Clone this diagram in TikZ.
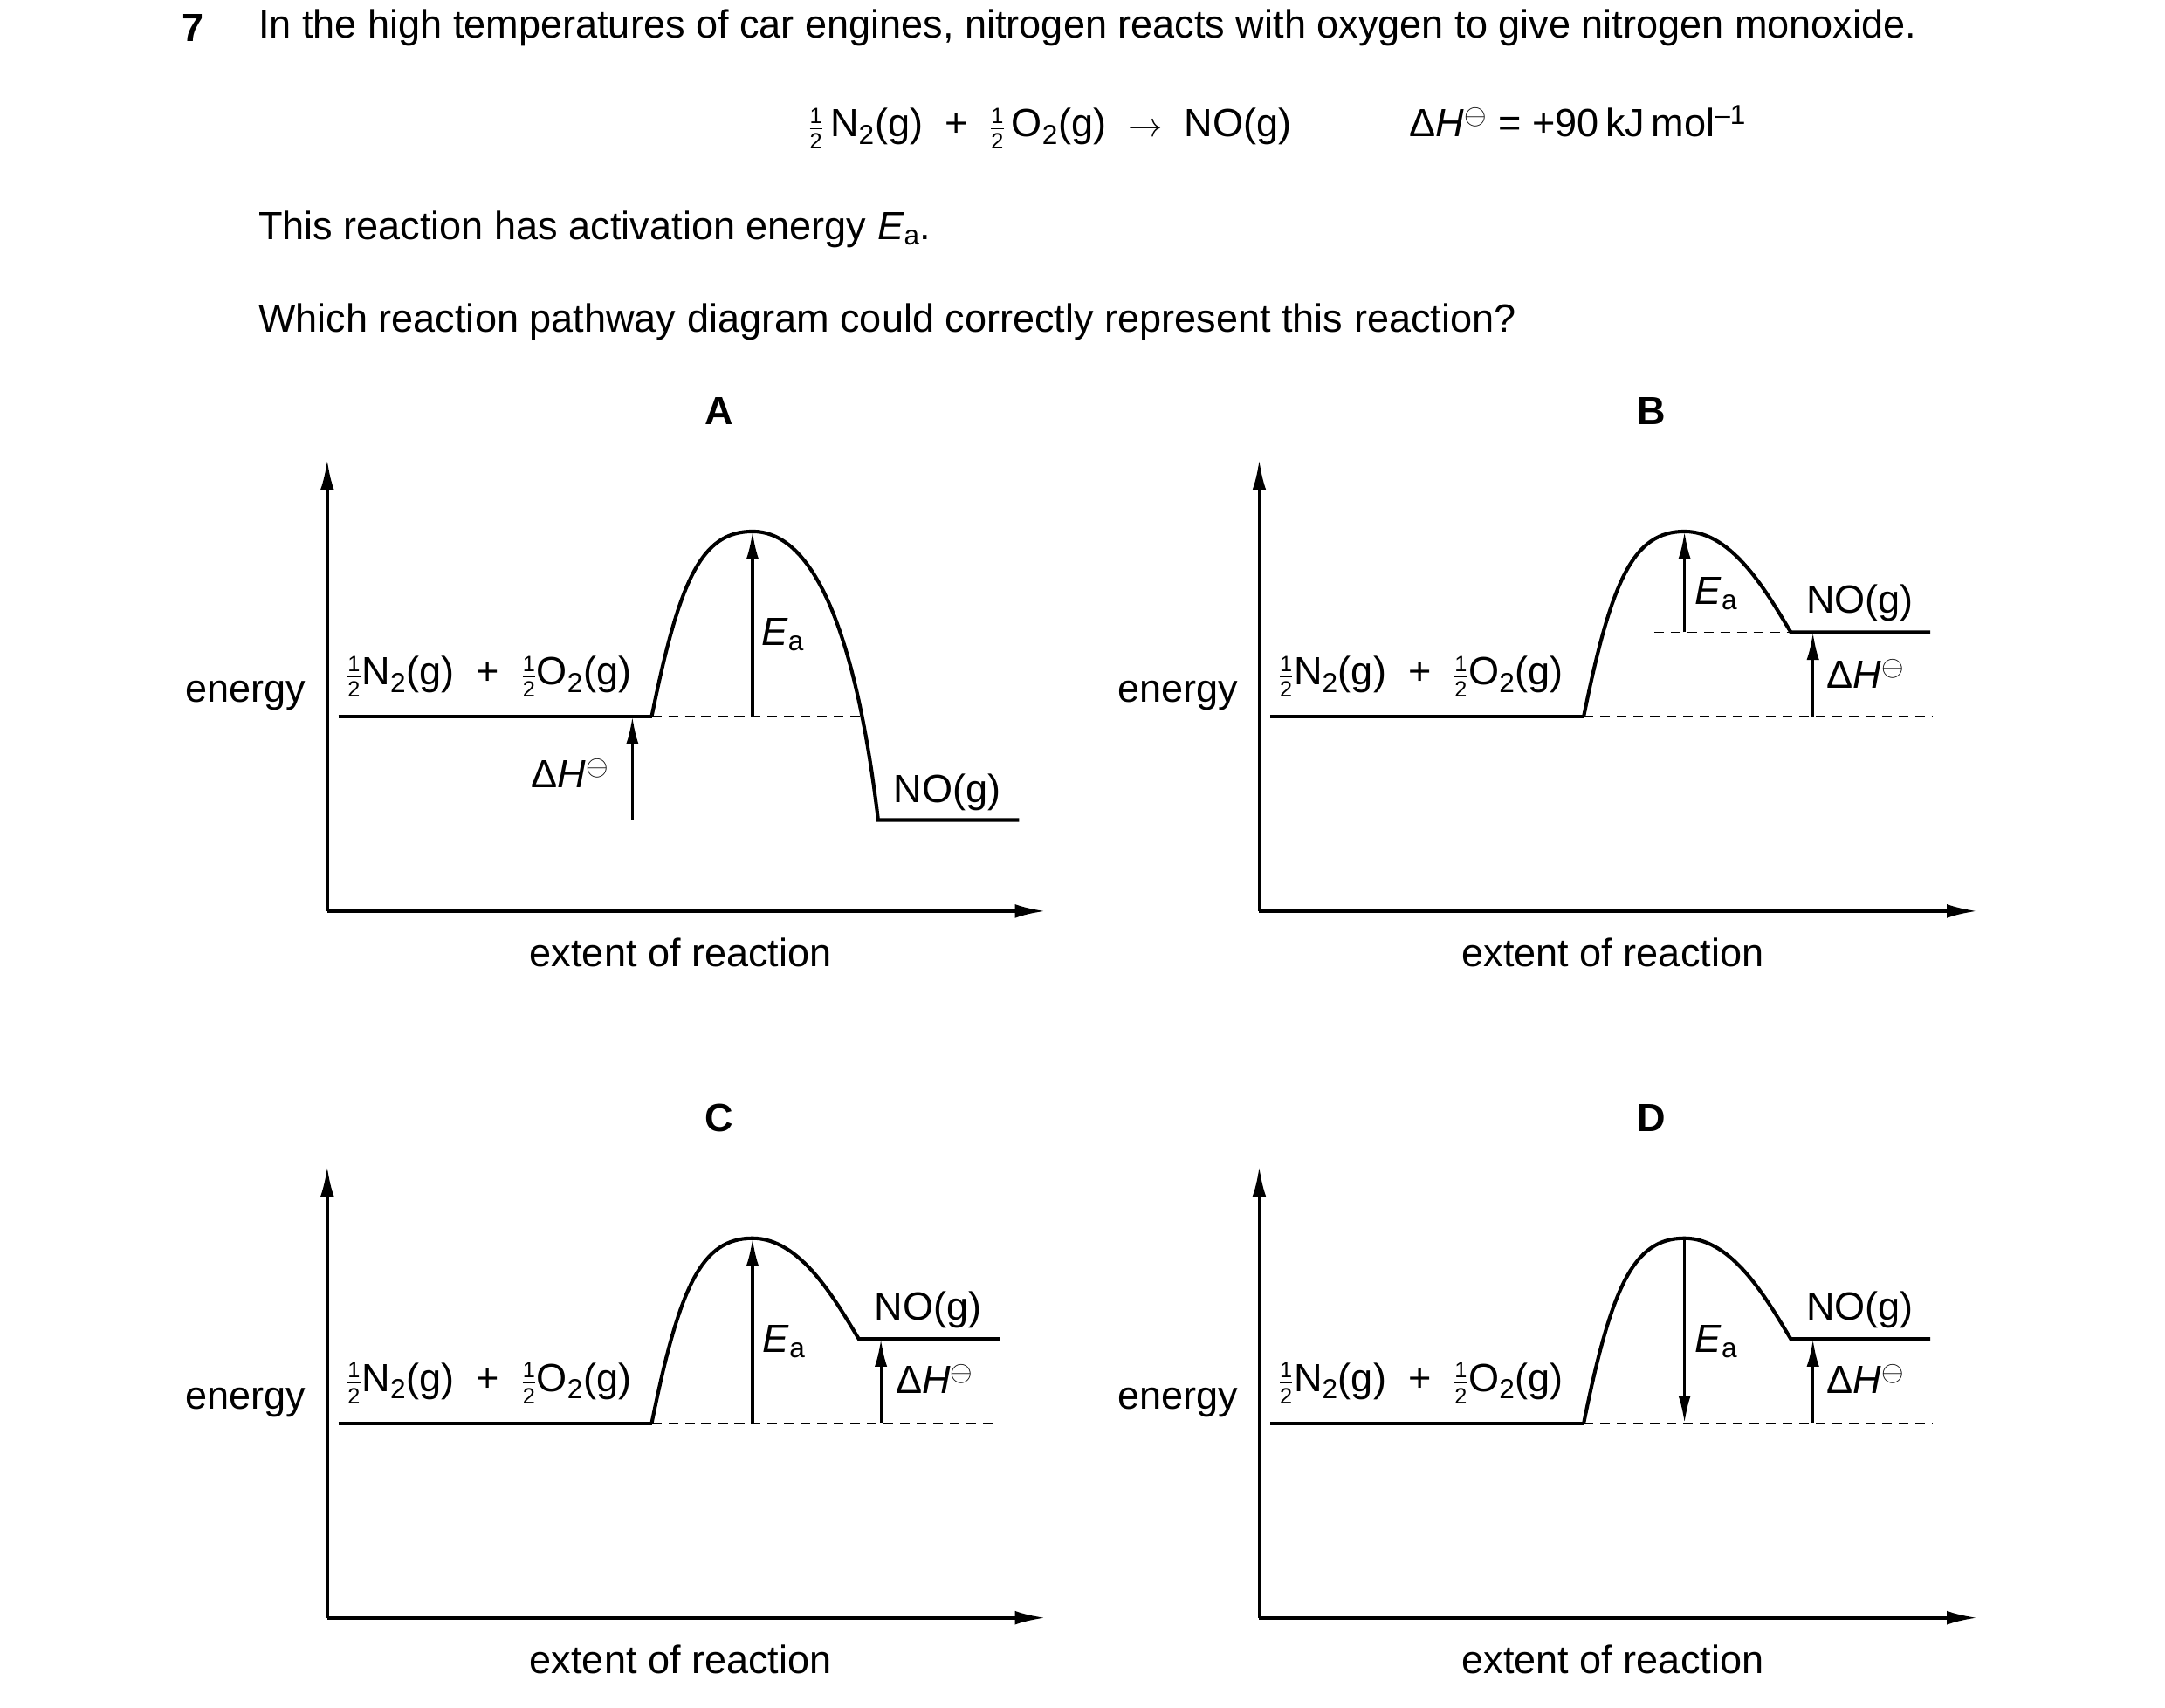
\documentclass[tikz,border=0pt]{standalone}
\usepackage{fontspec}
\setmainfont{Liberation Sans}
\usetikzlibrary{arrows.meta}
\newcommand\myhalf{$\frac{\mbox{\fontsize{16}{16}\selectfont 1}}{\mbox{\fontsize{16}{16}\selectfont 2}}$}
\newcommand\dH{Δ\textit{H}\textsuperscript{$\ominus$}}
\newcommand\react{\myhalf N\textsubscript{2}(g)\ \ +\ \ \myhalf O\textsubscript{2}(g)}
\begin{document}
\begin{tikzpicture}[x=1pt,y=-1pt,
  txt/.style={inner sep=0pt,font=\fontsize{28.5}{34}\selectfont},
  ax/.style={line width=2.4pt,-{Latex[length=22pt,width=10pt]}},
  lvl/.style={line width=2.6pt},
  dsh/.style={line width=1.1pt,dash pattern=on 7pt off 5pt},
  arr/.style={line width=2pt,-{Latex[length=20pt,width=9pt]}}]
\useasboundingbox (0,0) rectangle (1568,1237.3);
\fill[white] (0,0) rectangle (1568,1237.3);
\node[txt,font=\fontsize{28.5}{34}\selectfont\bfseries] (q) at (140,20) {7};
\node[txt,anchor=west] (l1) at (187,20) {In the high temperatures of car engines, nitrogen reacts with oxygen to give nitrogen monoxide.};
\node[txt] (eq) at (925,92) {\myhalf\,N\textsubscript{2}(g)\ \ +\ \ \myhalf\,O\textsubscript{2}(g)\ \ $\rightarrow$\ \ NO(g)\qquad\quad \dH{} = +90\,kJ\,mol\textsuperscript{–1}};
\node[txt,anchor=west] (l2) at (187,166) {This reaction has activation energy \textit{E}\textsubscript{a}.};
\node[txt,anchor=west] (l3) at (187,233) {Which reaction pathway diagram could correctly represent this reaction?};
% panels
\foreach \ox/\oy/\L in {0/0/A,675/0/B,0/512/C,675/512/D}{
  \begin{scope}[shift={(\ox,\oy)}]
  \node[txt,font=\fontsize{28.5}{34}\selectfont\bfseries] (t\L) at (521,298) {\L};
  \coordinate (o\L) at (237,660);
  \coordinate (yt\L) at (237,333);
  \coordinate (xr\L) at (757,660);
  \draw[ax] (o\L) -- (yt\L);
  \draw[ax] (o\L) -- (xr\L);
  \node[txt] (en\L) at (178,504) {energy};
  \node[txt] (ex\L) at (493,690) {extent of reaction};
  \node[txt] (r\L) at (354,490) {\react};
  \coordinate (ra\L) at (245,519);
  \coordinate (rb\L) at (472,519);
  \draw[lvl] (ra\L) -- (rb\L);
  \end{scope}}
% A
\coordinate (pkA) at (545,385);
\coordinate (pA) at (636,594);
\coordinate (peA) at (738,594);
\draw[lvl] (rbA) .. controls (492,420) and (508,385) .. (pkA) .. controls (590,385) and (620,460) .. (pA) -- (peA);
\coordinate (d1A) at (625,519);
\coordinate (d2A) at (245,594);
\draw[dsh] (rbA) -- (d1A);
\draw[dsh] (d2A) -- (pA);
\coordinate (hA1) at (458,594); \coordinate (hA2) at (458,519);
\draw[arr] (hA1) -- (hA2);
\coordinate (eA1) at (545,519);
\draw[arr] (eA1) -- (pkA);
\node[txt] (dhA) at (413,560) {\dH};
\node[txt] (eaA) at (567,460) {\textit{E}\textsubscript{a}};
\node[txt] (noA) at (686,574) {NO(g)};
% B
\coordinate (pkB) at (1220,385);
\coordinate (pB) at (1297,458);
\coordinate (peB) at (1398,458);
\draw[lvl] (rbB) .. controls (1167,420) and (1183,385) .. (pkB) .. controls (1255,385) and (1280,430) .. (pB) -- (peB);
\coordinate (d1B) at (1198,458);
\coordinate (d2B) at (1400,519);
\draw[dsh] (d1B) -- (pB);
\draw[dsh] (rbB) -- (d2B);
\coordinate (eB1) at (1220,458);
\draw[arr] (eB1) -- (pkB);
\coordinate (hB1) at (1313,519); \coordinate (hB2) at (1313,458);
\draw[arr] (hB1) -- (hB2);
\node[txt] (eaB) at (1243,430) {\textit{E}\textsubscript{a}};
\node[txt] (noB) at (1347,437) {NO(g)};
\node[txt] (dhB) at (1351,488) {\dH};
% C
\coordinate (pkC) at (545,897);
\coordinate (pC) at (622,970);
\coordinate (peC) at (724,970);
\draw[lvl] (rbC) .. controls (492,932) and (508,897) .. (pkC) .. controls (580,897) and (605,942) .. (pC) -- (peC);
\coordinate (d1C) at (724,1031);
\draw[dsh] (rbC) -- (d1C);
\coordinate (eC1) at (545,1031);
\draw[arr] (eC1) -- (pkC);
\coordinate (hC1) at (638,1031); \coordinate (hC2) at (638,970);
\draw[arr] (hC1) -- (hC2);
\node[txt] (eaC) at (568,972) {\textit{E}\textsubscript{a}};
\node[txt] (noC) at (672,949) {NO(g)};
\node[txt] (dhC) at (677,999) {\dH};
% D
\coordinate (pkD) at (1220,897);
\coordinate (pD) at (1297,970);
\coordinate (peD) at (1398,970);
\draw[lvl] (rbD) .. controls (1167,932) and (1183,897) .. (pkD) .. controls (1255,897) and (1280,942) .. (pD) -- (peD);
\coordinate (d1D) at (1400,1031);
\draw[dsh] (rbD) -- (d1D);
\coordinate (eD1) at (1220,1031);
\draw[arr] (pkD) -- (eD1);
\coordinate (hD1) at (1313,1031); \coordinate (hD2) at (1313,970);
\draw[arr] (hD1) -- (hD2);
\node[txt] (eaD) at (1243,972) {\textit{E}\textsubscript{a}};
\node[txt] (noD) at (1347,949) {NO(g)};
\node[txt] (dhD) at (1351,999) {\dH};
\end{tikzpicture}
\end{document}
